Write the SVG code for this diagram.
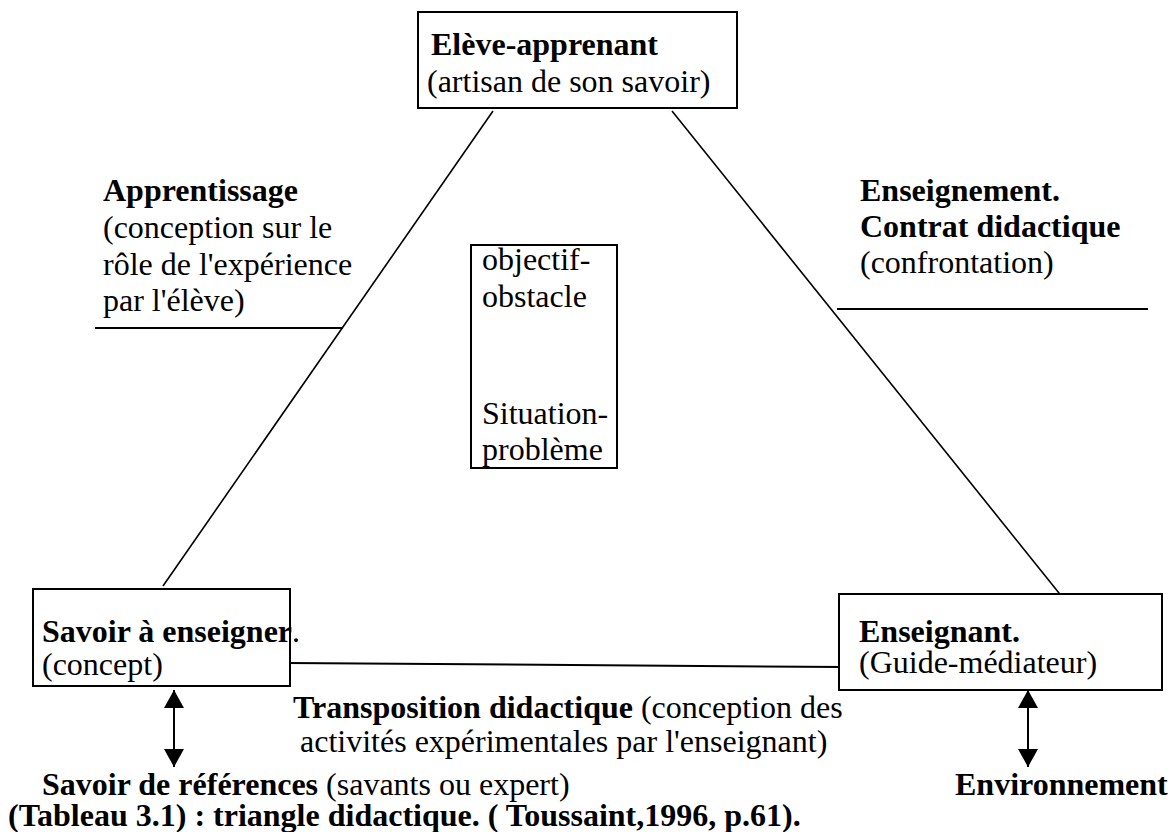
<svg xmlns="http://www.w3.org/2000/svg" width="1173" height="832" viewBox="0 0 1173 832">
<style>
text { font-family: "Liberation Serif", "Times New Roman", serif; font-size: 32px; fill: #000; }
.b { font-weight: bold; }
.box { fill: #fff; stroke: #000; stroke-width: 2; }
.ln { stroke: #000; stroke-width: 1.6; fill: none; }
.hl { stroke: #000; stroke-width: 2; fill: none; }
.arr { stroke: #000; stroke-width: 2; fill: none; marker-start: url(#ah); marker-end: url(#ah); }
</style>
<defs>
<marker id="ah" viewBox="0 0 18 20" refX="18" refY="10" markerWidth="18" markerHeight="20" markerUnits="userSpaceOnUse" orient="auto-start-reverse">
<path d="M0,0 L18,10 L0,20 Z" fill="#000"/>
</marker>
</defs>
<rect width="1173" height="832" fill="#fff"/>
<g id="connectors">
<line class="ln" x1="163" y1="586" x2="493" y2="111"/>
<line class="ln" x1="672" y1="111" x2="1063" y2="598"/>
<line class="hl" x1="287" y1="663" x2="843" y2="667"/>
<line class="hl" x1="95" y1="328" x2="343" y2="328"/>
<line class="hl" x1="837" y1="309" x2="1148" y2="309"/>
<line class="arr" x1="174" y1="690" x2="174" y2="767"/>
<line class="arr" x1="1028" y1="690" x2="1028" y2="767"/>
</g>
<g id="eleve">
<rect class="box" x="418" y="12" width="319" height="96"/>
<text x="431" y="55" class="b">Elève-apprenant</text>
<text x="427" y="92">(artisan de son savoir)</text>
</g>
<g id="savoir">
<rect class="box" x="33" y="589" width="257" height="97"/>
<text x="42" y="642"><tspan class="b">Savoir à enseigner</tspan>.</text>
<text x="42" y="675">(concept)</text>
</g>
<g id="enseignant">
<rect class="box" x="839" y="594" width="323" height="96"/>
<text x="859" y="642" class="b">Enseignant.</text>
<text x="859" y="673">(Guide-médiateur)</text>
</g>
<g id="objectif">
<rect class="box" x="471" y="245" width="146" height="223"/>
<text x="482" y="270">objectif-</text>
<text x="482" y="307">obstacle</text>
<text x="482" y="424">Situation-</text>
<text x="482" y="460">problème</text>
</g>
<g id="apprentissage">
<text x="103" y="201" class="b">Apprentissage</text>
<text x="103" y="238">(conception sur le</text>
<text x="103" y="275">rôle de l'expérience</text>
<text x="103" y="311">par l'élève)</text>
</g>
<g id="enseignement">
<text x="860" y="201" class="b">Enseignement.</text>
<text x="860" y="237" class="b">Contrat didactique</text>
<text x="860" y="273">(confrontation)</text>
</g>
<g id="transposition">
<text x="293" y="718"><tspan class="b">Transposition didactique</tspan> (conception des</text>
<text x="300" y="752">activités expérimentales par l'enseignant)</text>
</g>
<g id="references">
<text x="42" y="795"><tspan class="b">Savoir de références</tspan> (savants ou expert)</text>
</g>
<g id="environnement">
<text x="955" y="795" class="b">Environnement</text>
</g>
<g id="caption">
<text x="8" y="826" class="b">(Tableau 3.1) : triangle didactique. ( Toussaint,1996, p.61).</text>
</g>
</svg>
